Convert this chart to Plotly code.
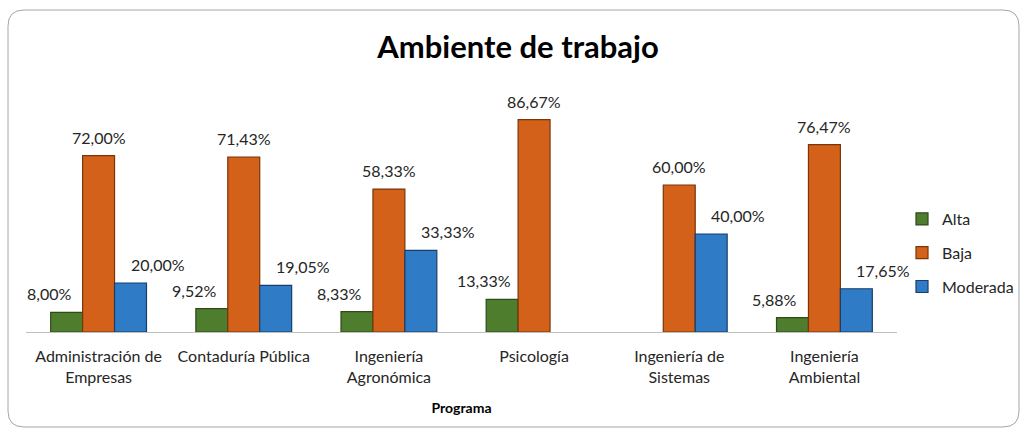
import plotly.graph_objects as go

categories = ["Administración de<br>Empresas", "Contaduría Pública", "Ingeniería<br>Agronómica",
              "Psicología", "Ingeniería de<br>Sistemas", "Ingeniería<br>Ambiental"]
alta = [8.00, 9.52, 8.33, 13.33, None, 5.88]
baja = [72.00, 71.43, 58.33, 86.67, 60.00, 76.47]
moderada = [20.00, 19.05, 33.33, None, 40.00, 17.65]

series = [("Alta", alta, "#4F7D2E", "#2E4A1A", -18),
          ("Baja", baja, "#D4611A", "#7A3508", 0),
          ("Moderada", moderada, "#2F7BC6", "#173F6A", 27)]

FONT = "Lato"
GAP = 0.34
W, H = 1026, 432
L, R, T, B = 26, 129, 87, 100
pw, ph = W - L - R, H - T - B
bar_px = pw / len(categories) * (1 - GAP) / len(series)

fig = go.Figure()
annotations = []
for k, (name, vals, col, edge, dx) in enumerate(series):
    fig.add_trace(go.Bar(
        name=name, x=categories, y=vals,
        marker=dict(color=col, line=dict(color=edge, width=1.2)),
        legendgroup=name,
    ))
    for cat, v in zip(categories, vals):
        if v is None:
            continue
        annotations.append(dict(
            x=cat, y=v, xref="x", yref="y", showarrow=False,
            text=f"{v:.2f}%".replace(".", ","),
            xanchor="center", yanchor="middle",
            xshift=(k - 1) * bar_px + dx, yshift=18.5,
            font=dict(family=FONT, size=16, color="#262626"),
        ))

def px2paper(x, y):
    return (x - L) / pw, (H - B - y) / ph

x0, y0 = px2paper(8, 10)
x1, y1 = px2paper(1019, 427)
rx, ry = 16 / pw, 16 / ph
path = (f"M {x0+rx},{y0} L {x1-rx},{y0} Q {x1},{y0} {x1},{y0-ry} "
        f"L {x1},{y1+ry} Q {x1},{y1} {x1-rx},{y1} L {x0+rx},{y1} "
        f"Q {x0},{y1} {x0},{y1+ry} L {x0},{y0-ry} Q {x0},{y0} {x0+rx},{y0} Z")

fig.update_layout(
    width=W, height=H,
    margin=dict(l=L, r=R, t=T, b=B, autoexpand=False),
    paper_bgcolor="white", plot_bgcolor="white",
    barmode="group", bargap=GAP, bargroupgap=0,
    title=dict(text="<b>Ambiente de trabajo</b>", x=(518 - L) / pw, xref="paper", xanchor="center",
               y=1 - 47 / H, yanchor="middle",
               font=dict(family=FONT, size=31, color="black")),
    xaxis=dict(showline=True, linecolor="#BFBFBF", linewidth=1, ticks="",
               range=[-0.5, len(categories) - 0.5], autorange=False,
               ticklabelstandoff=10,
               tickfont=dict(family=FONT, size=16, color="#262626"),
               title=dict(text="<b>Programa</b>", font=dict(family=FONT, size=14, color="black"),
                          standoff=18)),
    yaxis=dict(range=[0, 100], autorange=False, visible=False, showgrid=False),
    legend=dict(x=(902 - L) / pw, xanchor="left", y=(H - B - 253) / ph, yanchor="middle",
                font=dict(family=FONT, size=16, color="#262626"),
                traceorder="grouped", tracegroupgap=10, itemwidth=30,
                bgcolor="rgba(0,0,0,0)"),
    annotations=annotations,
    shapes=[dict(type="path", path=path, xref="paper", yref="paper",
                 line=dict(color="#A6A6A6", width=1), layer="below")],
    showlegend=True,
)

fig.write_html("out.html", config={"displayModeBar": False},
               post_script="document.body.style.margin='0';")
